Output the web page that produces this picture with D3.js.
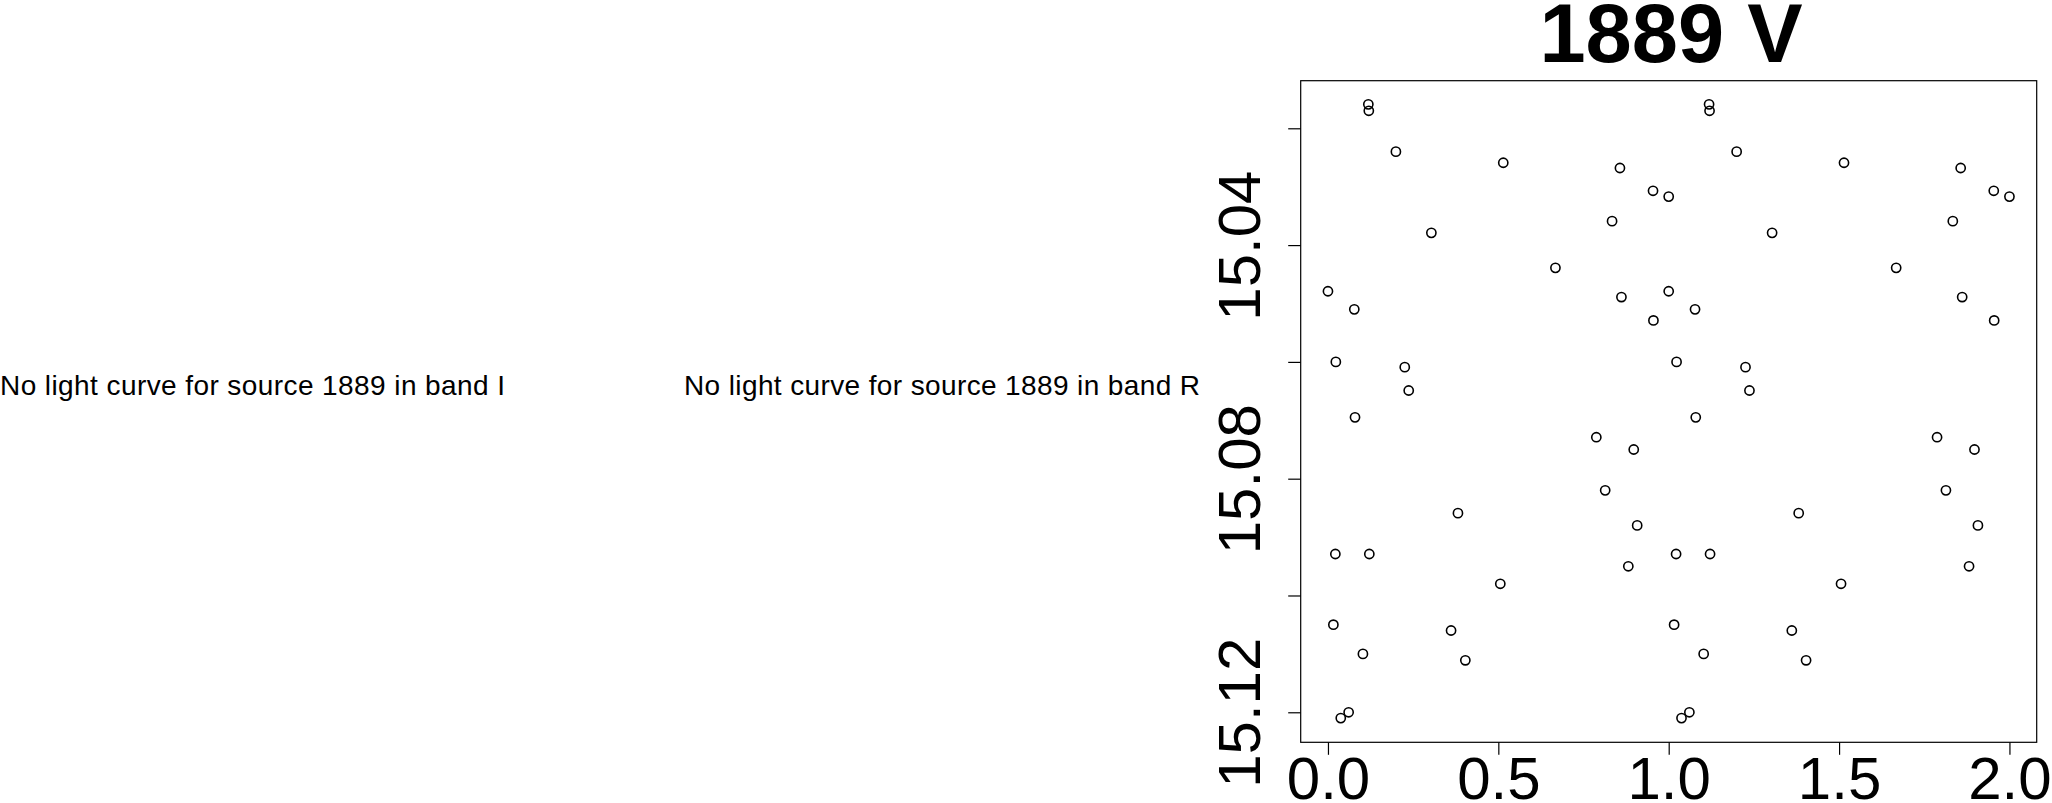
<!DOCTYPE html>
<html>
<head>
<meta charset="utf-8">
<script src="https://cdn.jsdelivr.net/npm/d3@7/dist/d3.min.js"></script>
<style>
  html, body { margin: 0; padding: 0; background: #ffffff; }
  svg { display: block; }
  text { font-family: "Liberation Sans", Arial, Helvetica, sans-serif; fill: #000; }
</style>
</head>
<body>
<svg id="chart" width="2052" height="803"></svg>
<script>
// ---- data ----
const title = "1889 V";
const messages = [
  "No light curve for source 1889 in band I",
  "No light curve for source 1889 in band R"
];
// unique phases (0..1) and V magnitudes; each is plotted at phase and phase + 1
const phase = [0.000, 0.0231, 0.0159, 0.0217, 0.0376, 0.0607, 0.0773, 0.0794, 0.1026, 0.1185,
               0.1199, 0.1214, 0.1994, 0.2254, 0.2370, 0.3035, 0.3613, 0.3815, 0.4032, 0.5058,
               0.5145, 0.6676, 0.7876, 0.8136, 0.8338, 0.8569, 0.8613, 0.8815, 0.8974, 0.9075,
               0.9552, 0.9540, 1.0000];
const mag   = [15.0479, 15.0600, 15.1050, 15.0929, 15.1210, 15.1200, 15.0510, 15.0695, 15.1100, 15.0159,
               15.0170, 15.0929, 15.0240, 15.0609, 15.0649, 15.0379, 15.1060, 15.0859, 15.1111, 15.0980,
               15.0259, 15.0439, 15.0729, 15.0820, 15.0359, 15.0268, 15.0489, 15.0950, 15.0750, 15.0880,
               15.0529, 15.0307, 15.0317];
const cycles = [0, 1];
const xTicks = [0.0, 0.5, 1.0, 1.5, 2.0];
const xTickLabels = ["0.0", "0.5", "1.0", "1.5", "2.0"];
const yTicks = [15.02, 15.04, 15.06, 15.08, 15.10, 15.12];
const yTickLabels = ["", "15.04", "", "15.08", "", "15.12"];

// ---- layout ----
const svg = d3.select("#chart");
const pLeft = 1300.7, pRight = 2036.7, pTop = 80.7, pBottom = 742.3;

const x = d3.scaleLinear().domain([-0.08, 2.08]).range([pLeft, pRight]);
const y = d3.scaleLinear().domain([15.01185, 15.12514]).range([pTop, pBottom]);

// messages for missing bands
svg.append("text").attr("x", 0).attr("y", 395)
  .attr("font-size", 28).attr("textLength", 505).attr("lengthAdjust", "spacing")
  .text(messages[0]);
svg.append("text").attr("x", 684).attr("y", 395)
  .attr("font-size", 28).attr("textLength", 516).attr("lengthAdjust", "spacing")
  .text(messages[1]);

// title
svg.append("text").attr("x", 1671).attr("y", 61.7)
  .attr("text-anchor", "middle").attr("font-size", 83).attr("font-weight", "bold")
  .text(title);

// box
svg.append("rect")
  .attr("x", pLeft).attr("y", pTop)
  .attr("width", pRight - pLeft).attr("height", pBottom - pTop)
  .attr("fill", "none").attr("stroke", "#000").attr("stroke-width", 1.2);

// x axis
const xAxis = d3.axisBottom(x).tickValues(xTicks)
  .tickFormat((d, i) => xTickLabels[i]).tickSize(12.5).tickPadding(0);
const gx = svg.append("g").attr("transform", `translate(0,${pBottom})`).call(xAxis);
gx.select(".domain").remove();
gx.selectAll(".tick line").attr("stroke", "#000").attr("stroke-width", 1.2);
gx.selectAll(".tick text")
  .attr("font-family", "'Liberation Sans', Arial, sans-serif")
  .attr("font-size", 60).attr("fill", "#000")
  .attr("dy", null).attr("y", 799 - pBottom);

// y axis
const yAxis = d3.axisLeft(y).tickValues(yTicks)
  .tickFormat((d, i) => yTickLabels[i]).tickSize(12.5).tickPadding(0);
const gy = svg.append("g").attr("transform", `translate(${pLeft},0)`).call(yAxis);
gy.select(".domain").remove();
gy.selectAll(".tick line").attr("stroke", "#000").attr("stroke-width", 1.2);
gy.selectAll(".tick text")
  .attr("font-family", "'Liberation Sans', Arial, sans-serif")
  .attr("font-size", 60).attr("fill", "#000")
  .attr("text-anchor", "middle").attr("dy", null).attr("x", null).attr("y", null)
  .attr("transform", `translate(${1260 - pLeft},0) rotate(-90)`);

// points (open circles), folded over two cycles
const pts = [];
cycles.forEach(c => phase.forEach((p, i) => pts.push({ px: p + c, m: mag[i] })));
svg.append("g").selectAll("circle").data(pts).join("circle")
  .attr("cx", d => x(d.px)).attr("cy", d => y(d.m)).attr("r", 4.6)
  .attr("fill", "none").attr("stroke", "#000").attr("stroke-width", 1.6);
</script>
</body>
</html>
